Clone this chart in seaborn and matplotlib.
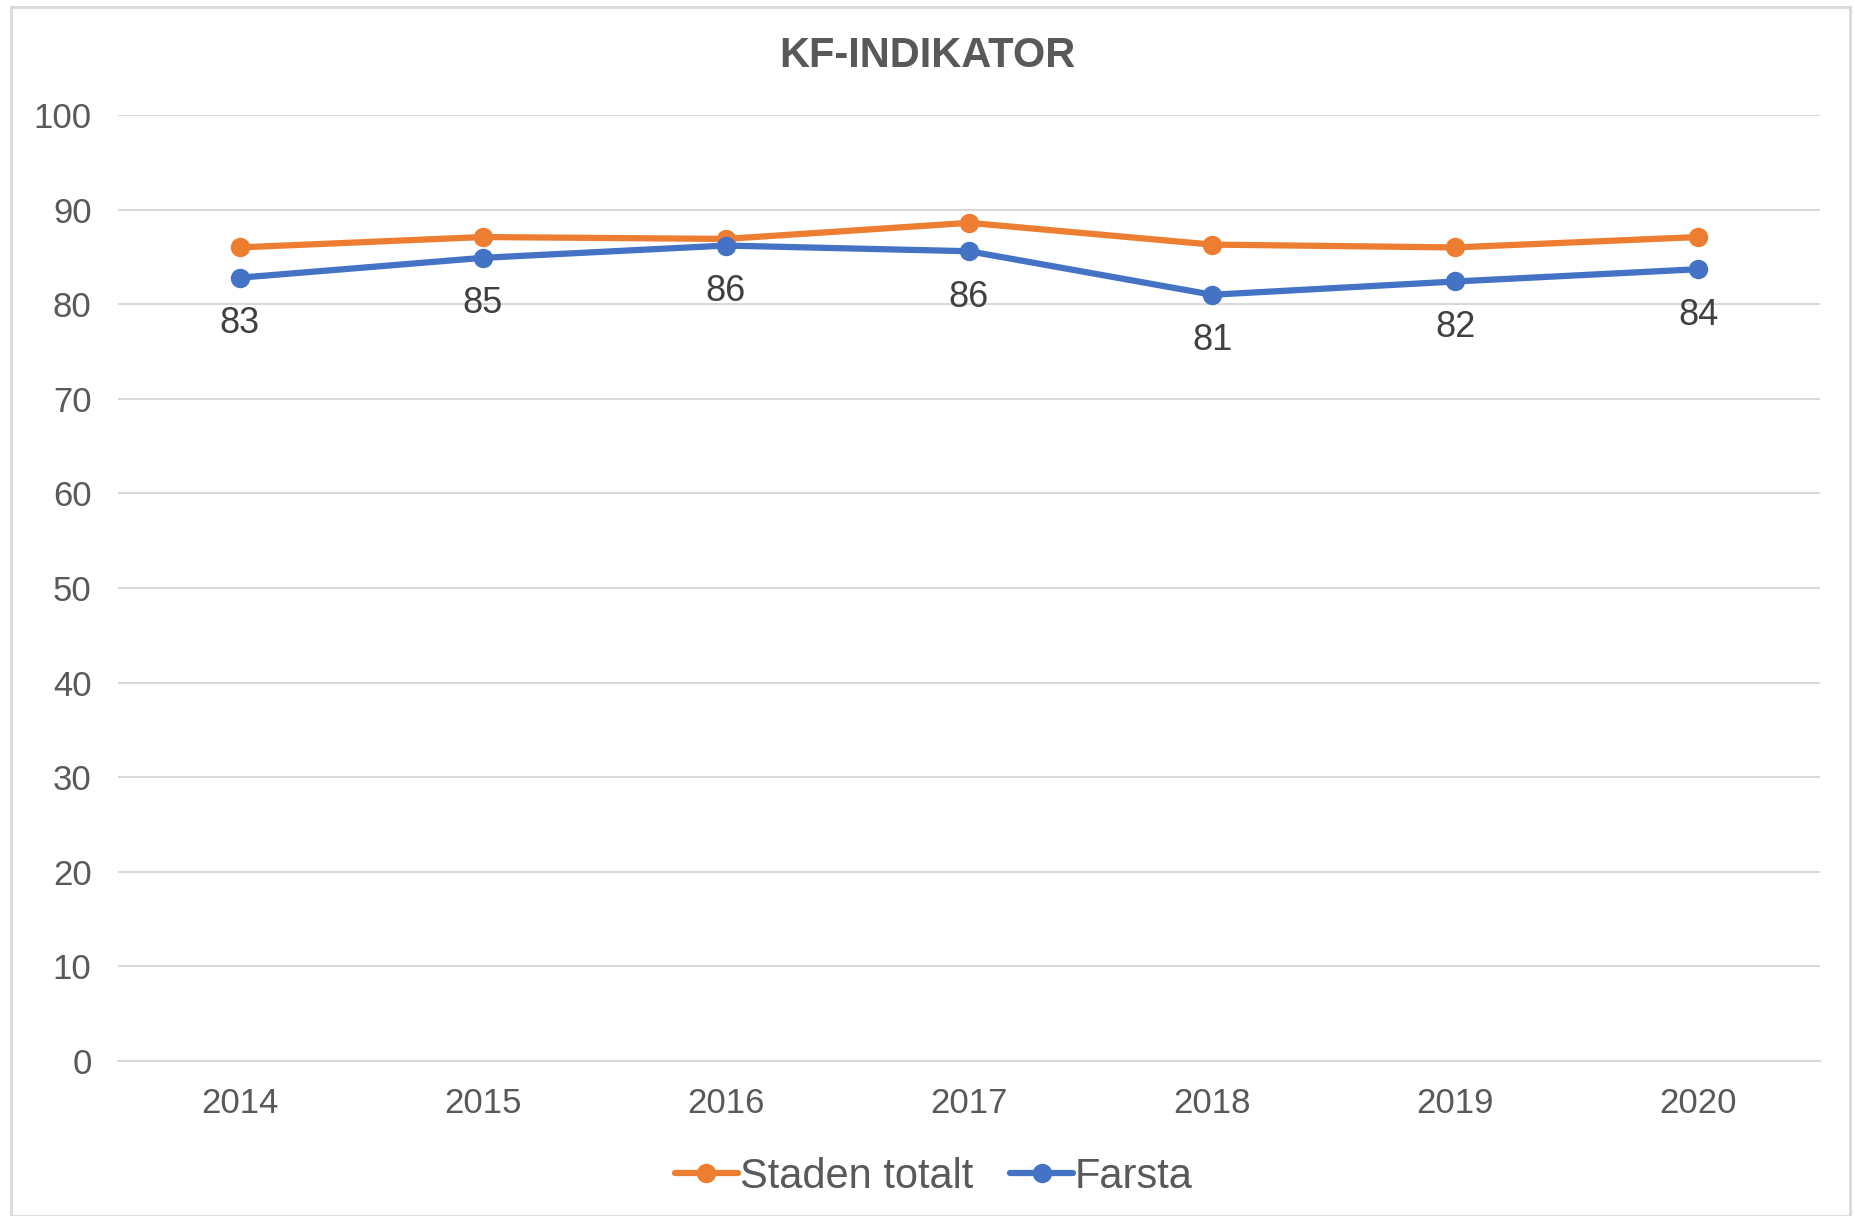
import matplotlib
matplotlib.use("Agg")
import matplotlib.pyplot as plt
import seaborn as sns
import pandas as pd
from matplotlib.patches import Rectangle

# data
years = ["2014", "2015", "2016", "2017", "2018", "2019", "2020"]
staden_totalt = [86.0, 87.1, 86.9, 88.6, 86.3, 86.0, 87.1]
farsta = [82.8, 84.9, 86.2, 85.6, 81.0, 82.4, 83.7]
farsta_labels = ["83", "85", "86", "86", "81", "82", "84"]
series_names = ["Staden totalt", "Farsta"]

sns.set_theme(style="white")
plt.rcParams["font.family"] = ["Liberation Sans", "DejaVu Sans"]

df = pd.DataFrame({
    "year": years * 2,
    "value": staden_totalt + farsta,
    "serie": [series_names[0]] * len(years) + [series_names[1]] * len(years),
})

text_col = "#595959"
palette = {"Staden totalt": "#ED7D31", "Farsta": "#4472C4"}

fig = plt.figure(figsize=(18.55, 12.16), dpi=100)
ax = fig.add_axes([118 / 1855, 1 - 1061 / 1216, (1820 - 118) / 1855, (1061 - 115) / 1216])

sns.lineplot(data=df, x="year", y="value", hue="serie", hue_order=series_names,
             palette=palette, marker="o", markersize=14, markeredgewidth=0,
             linewidth=4.5, ax=ax, sort=False)

# data labels under the Farsta points
for i, lab in enumerate(farsta_labels):
    ax.annotate(lab, (i, farsta[i]), xytext=(0, -33), textcoords="offset points",
                ha="center", va="center", fontsize=26, color="#404040")

ax.set_xlim(-0.5, len(years) - 0.5)
ax.set_ylim(0, 100)
ax.set_yticks(range(0, 101, 10))
ax.yaxis.grid(True, color="#D9D9D9", linewidth=1.5)
ax.set_axisbelow(True)
for s in ["top", "right", "left"]:
    ax.spines[s].set_visible(False)
ax.spines["bottom"].set_color("#D9D9D9")
ax.spines["bottom"].set_linewidth(1.5)
ax.tick_params(axis="both", labelsize=25, colors=text_col, length=0)
ax.tick_params(axis="x", pad=19)
ax.tick_params(axis="y", pad=19)
ax.set_xlabel("")
ax.set_ylabel("")

fig.text(0.5, 1 - 56 / 1216, "KF-INDIKATOR", ha="center", va="center",
         fontsize=30, fontweight="bold", color=text_col)

leg = ax.legend(loc="center", ncol=2, frameon=False, fontsize=30, handlelength=1.5,
                handletextpad=0.05, columnspacing=0.9, labelcolor=text_col)
leg.set_bbox_to_anchor((934 / 1855, 1 - 1177 / 1216), transform=fig.transFigure)

# outer chart border
fig.patches.append(Rectangle((11 / 1855, 0), (1850 - 11) / 1855, 1 - 7 / 1216,
                             transform=fig.transFigure, fill=False,
                             edgecolor="#D9D9D9", linewidth=2))

fig.savefig("out.png", dpi=100, facecolor="white")
